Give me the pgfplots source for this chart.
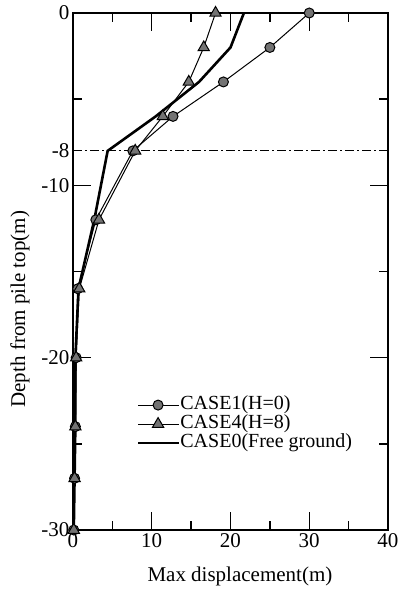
\documentclass[border=0pt]{standalone}
\usepackage{fontspec}
\setmainfont{Liberation Serif}
\usepackage{pgfplots}
\pgfplotsset{compat=1.18}
\pgfplotstableread{
x y
30.0 0
25.0 -2
19.1 -4
12.7 -6
7.6 -8
2.9 -12
0.6 -16
0.4 -20
0.3 -24
0.2 -27
0.1 -30
}\caseone
\pgfplotstableread{
x y
18.1 0
16.6 -2
14.7 -4
11.4 -6
7.9 -8
3.3 -12
0.8 -16
0.4 -20
0.3 -24
0.2 -27
0.1 -30
}\casefour
\pgfplotstableread{
x y
21.7 0
20.0 -2
16.0 -4
10.5 -6
4.4 -8
2.7 -12
0.7 -16
0.3 -20
0.3 -24
0.2 -27
0.1 -30
}\casezero
\begin{document}
\begin{tikzpicture}[x=1pt,y=1pt]
\path[use as bounding box] (-73,-62) rectangle (326,530);
\begin{axis}[
  at={(0,0)}, anchor=south west,
  scale only axis, width=315pt, height=517pt,
  xmin=0, xmax=40, ymin=-30, ymax=0,
  axis line style={line width=1.6pt},
  xtick={0,10,20,30,40}, minor xtick={5,15,25,35},
  ytick={0,-10,-20,-30}, minor ytick={-5,-15,-25},
  extra y ticks={-8},
  extra y tick style={major tick length=0pt},
  tick align=inside, major tick length=18pt, minor tick length=9pt,
  every tick/.style={line width=1.4pt, black},
  /pgf/number format/assume math mode=true,
  ticklabel style={font=\fontsize{21}{24}\selectfont},
  label style={font=\fontsize{21}{24}\selectfont},
  xlabel={Max displacement(m)},
  ylabel={Depth from pile top(m)},
  xlabel style={at={(ticklabel cs:0.53)}, anchor=north, yshift=-12pt},
  ylabel style={at={(ticklabel cs:0.427)}, yshift=5pt},
  clip=false,
  legend cell align=left,
  legend style={draw=none, fill=none, at={(axis cs:8.1,-22.2)}, anchor=north west,
    inner sep=0pt, outer sep=0pt, row sep=0pt, column sep=0pt,
    font=\fontsize{20}{22}\selectfont,
    nodes={inner sep=0pt, text height=14pt, text depth=5pt}},
  legend image code/.code={\draw[mark repeat=2,mark phase=2,#1] plot coordinates {(0pt,0pt) (20pt,0pt) (41pt,0pt)};},
]
\addplot[black, line width=1.2pt, dash pattern=on 9pt off 3pt on 2pt off 3pt, forget plot] coordinates {(0,-8) (40,-8)};
\addplot[black, line width=1pt, mark=*, mark size=5pt, mark options={fill=black!55, draw=black, line width=1pt}] table[x=x,y=y] {\caseone};
\addlegendentry{CASE1(H=0)}
\addplot[black, line width=1pt, mark=triangle*, mark size=6.5pt, mark options={fill=black!55, draw=black, line width=1pt}] table[x=x,y=y] {\casefour};
\addlegendentry{CASE4(H=8)}
\addplot[black, line width=2.6pt] table[x=x,y=y] {\casezero};
\addlegendentry{CASE0(Free ground)}
\end{axis}
\end{tikzpicture}
\end{document}
